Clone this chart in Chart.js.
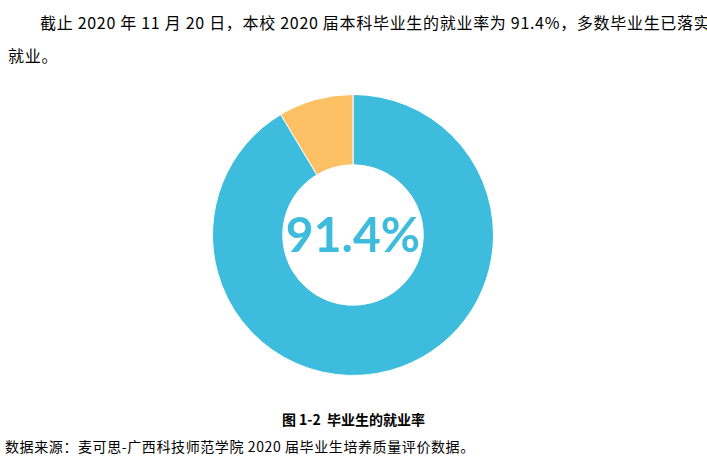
<!DOCTYPE html>
<html>
<head>
<meta charset="utf-8">
<script src="https://cdn.jsdelivr.net/npm/chart.js@4.4.0/dist/chart.umd.min.js"></script>
<style>
  body { margin: 0; background: #fff; width: 707px; height: 460px; position: relative; overflow: hidden;
         font-family: "Noto Sans CJK SC", sans-serif; color: #000; }
  .intro { position: absolute; left: 8px; top: 6px; width: 700px; font-size: 16px; letter-spacing: 0.7px; line-height: 33px; margin: 0; white-space: nowrap; }
  .intro .first { padding-left: 32px; }
  #wrap { position: absolute; left: 210px; top: 92px; width: 286px; height: 286px; }
  .caption { position: absolute; left: 0; width: 707px; top: 409px; text-align: center; font-size: 14px; font-weight: bold; }
  .source { position: absolute; left: 5px; top: 436px; font-size: 14px; letter-spacing: 0.6px; }
</style>
</head>
<body>
<p class="intro"><span class="first">截止 2020 年 11 月 20 日，本校 2020 届本科毕业生的就业率为 91.4%，多数毕业生已落实</span><br>就业。</p>
<div id="wrap"><canvas id="rateChart"></canvas></div>
<div class="caption">图 1-2&nbsp; 毕业生的就业率</div>
<div class="source">数据来源：麦可思-广西科技师范学院 2020 届毕业生培养质量评价数据。</div>
<script>
const labels = ['已就业', '未就业'];
const values = [91.4, 8.6];
const colors = ['#3DBCDD', '#FDC064'];
const centerLabel = '91.4%';

// 中心文字
const centerText = {
  id: 'centerText',
  afterDraw(chart) {
    const ctx = chart.ctx;
    const meta = chart.getDatasetMeta(0).data[0];
    ctx.save();
    ctx.font = 'bold 48px Lato';
    ctx.fillStyle = '#3DBCDD';
    ctx.textAlign = 'center';
    ctx.textBaseline = 'middle';
    ctx.fillText(centerLabel, meta.x, meta.y + 2);
    ctx.restore();
  }
};

new Chart(document.getElementById('rateChart'), {
  type: 'doughnut',
  data: {
    labels: labels,
    datasets: [{
      data: values,
      backgroundColor: colors,
      borderColor: '#fff',
      borderWidth: 1
    }]
  },
  options: {
    responsive: true,
    maintainAspectRatio: false,
    animation: false,
    cutout: '50%',
    layout: { padding: 2 },
    plugins: {
      legend: { display: false },
      tooltip: { enabled: false }
    }
  },
  plugins: [centerText]
});
</script>
</body>
</html>
